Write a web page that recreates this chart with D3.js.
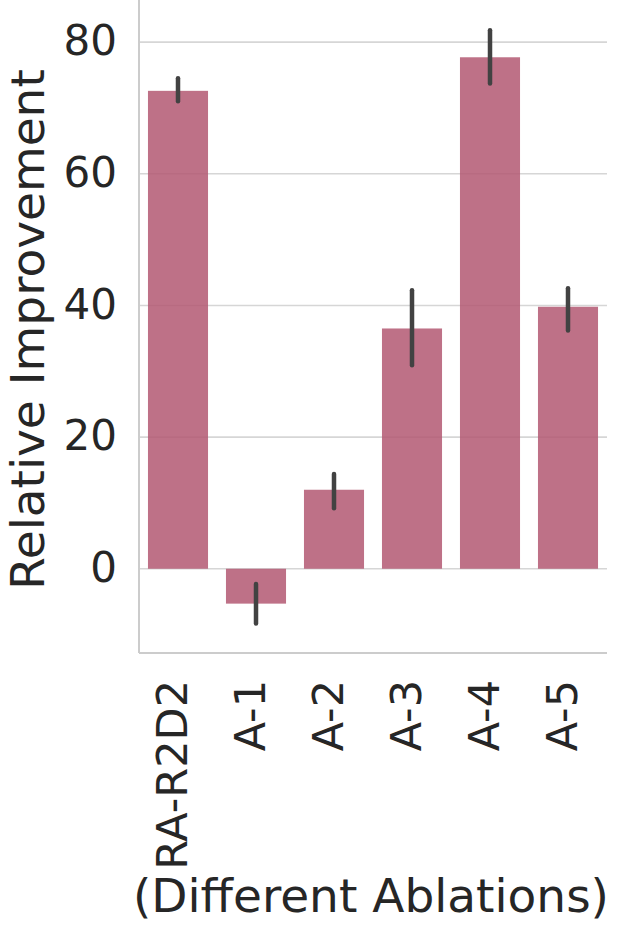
<!DOCTYPE html>
<html>
<head>
<meta charset="utf-8">
<script src="https://cdn.jsdelivr.net/npm/d3@7"></script>
<style>
  html, body { margin: 0; padding: 0; background: #fff; }
  svg { display: block; }
  text { font-family: "DejaVu Sans", sans-serif; fill: #262626; }
</style>
</head>
<body>
<svg id="chart" width="626" height="940"></svg>
<script>
const categories = ["RA-R2D2", "A-1", "A-2", "A-3", "A-4", "A-5"];
const values     = [72.6, -5.3, 12.0, 36.5, 77.7, 39.8];
const errLow     = [71.0, -8.3, 9.2, 30.9, 73.7, 36.2];
const errHigh    = [74.5, -2.3, 14.4, 42.3, 81.8, 42.6];
const yTicks     = [0, 20, 40, 60, 80];
const yLabel     = "Relative Improvement";
const xLabel     = "(Different Ablations)";

(function () {
const svg = d3.select("#chart");
const mLeft = 139, mRight = 607, mTop = 0, mBottom = 653;

const x = d3.scaleBand().domain(categories).range([mLeft, mRight])
  .paddingInner(0.23).paddingOuter(0.115);
const y = d3.scaleLinear().domain([-12.8, 86.4]).range([mBottom, mTop]);

// grid
svg.append("g").selectAll("line").data(yTicks).join("line")
  .attr("x1", mLeft).attr("x2", mRight)
  .attr("y1", d => y(d)).attr("y2", d => y(d))
  .attr("stroke", "#d6d6d6").attr("stroke-width", 1.6);

// bars
svg.append("g").selectAll("rect").data(categories).join("rect")
  .attr("x", d => x(d))
  .attr("width", x.bandwidth())
  .attr("y", (d, i) => y(Math.max(0, values[i])))
  .attr("height", (d, i) => Math.abs(y(values[i]) - y(0)))
  .attr("fill", "rgb(179,88,114)")
  .attr("fill-opacity", 0.85);

// error bars
svg.append("g").selectAll("line").data(categories).join("line")
  .attr("x1", d => x(d) + x.bandwidth() / 2)
  .attr("x2", d => x(d) + x.bandwidth() / 2)
  .attr("y1", (d, i) => y(errLow[i]))
  .attr("y2", (d, i) => y(errHigh[i]))
  .attr("stroke", "#424242").attr("stroke-width", 4.5)
  .attr("stroke-linecap", "round");

// spines
svg.append("line").attr("x1", mLeft).attr("x2", mLeft).attr("y1", mTop).attr("y2", mBottom)
  .attr("stroke", "#cccccc").attr("stroke-width", 2);
svg.append("line").attr("x1", mLeft).attr("x2", mRight).attr("y1", mBottom).attr("y2", mBottom)
  .attr("stroke", "#cccccc").attr("stroke-width", 2);

// y axis
const yAxis = d3.axisLeft(y).tickValues(yTicks).tickSize(0).tickPadding(22);
const gy = svg.append("g").attr("transform", `translate(${mLeft},0)`).call(yAxis);
gy.select(".domain").remove();
gy.selectAll("text").attr("font-size", 42).attr("fill", "#2a2a2a")
  .attr("font-family", "DejaVu Sans").attr("dy", "0.3em");

// x axis
const xAxis = d3.axisBottom(x).tickSize(0);
const gx = svg.append("g").attr("transform", `translate(0,${mBottom})`).call(xAxis);
gx.select(".domain").remove();
gx.selectAll("text")
  .attr("font-size", 43).attr("fill", "#2a2a2a").attr("font-family", "DejaVu Sans")
  .attr("text-anchor", "end")
  .attr("transform", "rotate(-90)")
  .attr("x", -27).attr("y", -3).attr("dy", "0.28em");

// labels
svg.append("text").attr("transform", `translate(44,${(mTop + mBottom) / 2 + 3}) rotate(-90)`)
  .attr("text-anchor", "middle").attr("font-size", 47).attr("fill", "#2a2a2a").text(yLabel);
svg.append("text").attr("x", (mLeft + mRight) / 2 - 2).attr("y", 912)
  .attr("text-anchor", "middle").attr("font-size", 47).attr("fill", "#2a2a2a").text(xLabel);
})();
</script>
</body>
</html>
